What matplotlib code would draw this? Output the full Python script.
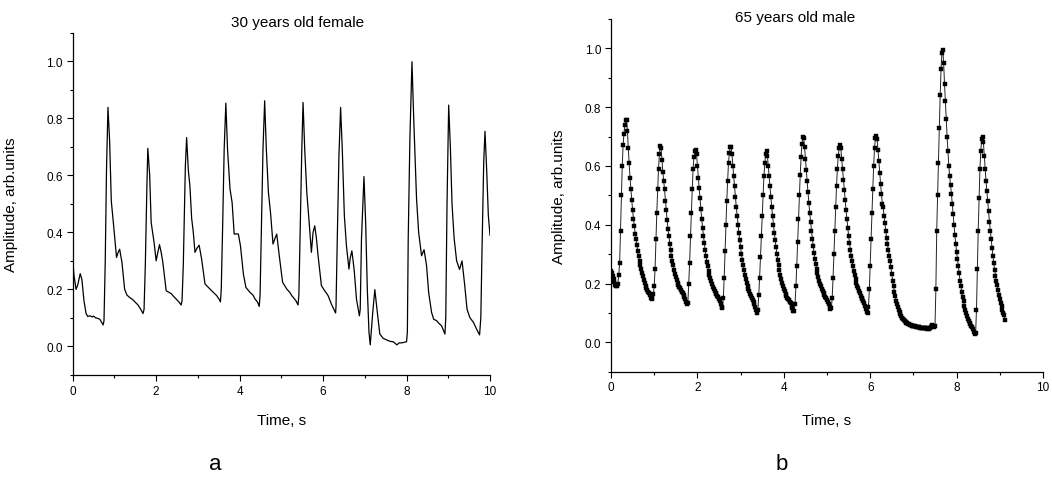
import numpy as np
import matplotlib
matplotlib.use("Agg")
import matplotlib.pyplot as plt
from matplotlib.ticker import MultipleLocator, FormatStrFormatter

plt.rcParams['font.family'] = ['Liberation Sans', 'DejaVu Sans']

# ---------------- data: panel a (30 years old female) ----------------
t_a = [0.00, 0.03, 0.08, 0.12, 0.18, 0.22, 0.27, 0.32, 0.36, 0.42, 0.47, 0.50, 0.55, 0.60, 0.65,
       0.69, 0.73, 0.75, 0.78, 0.81, 0.845, 0.885, 0.925, 0.98, 1.05, 1.09, 1.125, 1.18, 1.245,
       1.30, 1.36, 1.445, 1.52, 1.565, 1.63, 1.685, 1.71, 1.74, 1.78, 1.80, 1.845, 1.88, 1.95,
       2.00, 2.04, 2.08, 2.12, 2.16, 2.24, 2.30, 2.36, 2.42, 2.48, 2.55, 2.60, 2.62, 2.65, 2.70,
       2.73, 2.77, 2.81, 2.85, 2.89, 2.93, 2.98, 3.03, 3.09, 3.17, 3.25, 3.33, 3.45, 3.51, 3.54,
       3.56, 3.59, 3.63, 3.67, 3.71, 3.77, 3.82, 3.87, 3.92, 3.97, 4.02, 4.09, 4.15, 4.25, 4.32,
       4.37, 4.43, 4.47, 4.49, 4.52, 4.56, 4.60, 4.64, 4.69, 4.74, 4.80, 4.85, 4.89, 4.95, 5.03,
       5.13, 5.20, 5.25, 5.35, 5.40, 5.42, 5.45, 5.49, 5.52, 5.56, 5.61, 5.66, 5.72, 5.76, 5.80,
       5.84, 5.88, 5.96, 6.04, 6.12, 6.20, 6.30, 6.31, 6.34, 6.38, 6.42, 6.46, 6.51, 6.56, 6.62,
       6.65, 6.69, 6.72, 6.75, 6.80, 6.87, 6.89, 6.92, 6.98, 7.02, 7.06, 7.10, 7.13, 7.16, 7.19,
       7.24, 7.30, 7.36, 7.44, 7.50, 7.56, 7.62, 7.68, 7.73, 7.77, 7.82, 7.88, 7.94, 8.00, 8.02,
       8.04, 8.08, 8.13, 8.175, 8.24, 8.29, 8.36, 8.42, 8.48, 8.53, 8.60, 8.65, 8.72, 8.78, 8.84,
       8.92, 8.94, 8.97, 9.01, 9.05, 9.09, 9.14, 9.20, 9.27, 9.33, 9.39, 9.45, 9.52, 9.60, 9.68,
       9.75, 9.78, 9.81, 9.85, 9.88, 9.92, 9.96, 10.0]
v_a = [0.306, 0.25, 0.20, 0.215, 0.255, 0.235, 0.16, 0.115, 0.105, 0.107, 0.103, 0.106, 0.100, 0.098, 0.095,
       0.085, 0.075, 0.09, 0.30, 0.62, 0.839, 0.72, 0.51, 0.425, 0.312, 0.33, 0.341, 0.295, 0.20,
       0.18, 0.172, 0.163, 0.152, 0.145, 0.13, 0.115, 0.13, 0.283, 0.575, 0.695, 0.60, 0.435, 0.365,
       0.30, 0.33, 0.357, 0.33, 0.295, 0.195, 0.19, 0.185, 0.175, 0.166, 0.155, 0.145, 0.16, 0.283, 0.634,
       0.733, 0.62, 0.56, 0.45, 0.40, 0.33, 0.345, 0.355, 0.306, 0.219, 0.207, 0.195, 0.178, 0.165, 0.156,
       0.20, 0.40, 0.692, 0.854, 0.692, 0.552, 0.505, 0.394, 0.395, 0.394, 0.353, 0.254, 0.207, 0.189, 0.18,
       0.166, 0.155, 0.14, 0.18, 0.40, 0.692, 0.862, 0.692, 0.54, 0.47, 0.359, 0.38, 0.394, 0.318, 0.225,
       0.201, 0.19, 0.178, 0.16, 0.145, 0.18, 0.40, 0.692, 0.856, 0.692, 0.54, 0.447, 0.33, 0.40, 0.423,
       0.38, 0.318, 0.213, 0.195, 0.178, 0.148, 0.117, 0.14, 0.376, 0.669, 0.839, 0.692, 0.458, 0.353, 0.271,
       0.31, 0.335, 0.30, 0.26, 0.166, 0.107, 0.13, 0.376, 0.596, 0.435, 0.201, 0.049, 0.005, 0.06, 0.119,
       0.199, 0.119, 0.043, 0.028, 0.024, 0.02, 0.017, 0.016, 0.01, 0.005, 0.012, 0.012, 0.014, 0.016, 0.05,
       0.376, 0.727, 0.999, 0.786, 0.517, 0.40, 0.318, 0.339, 0.283, 0.189, 0.119, 0.095, 0.09, 0.08, 0.072,
       0.043, 0.10, 0.50, 0.847, 0.70, 0.50, 0.38, 0.30, 0.27, 0.30, 0.22, 0.13, 0.10, 0.085, 0.06,
       0.04, 0.10, 0.35, 0.65, 0.755, 0.62, 0.46, 0.39]

# ---------------- data: panel b (65 years old male), sampled every 0.02 s ----------------
dt_b = 0.02
v_b = [
    0.243, 0.235, 0.225, 0.215, 0.205, 0.196, 0.19, 0.19, 0.20,
    0.23, 0.27, 0.38, 0.50, 0.60, 0.67, 0.71, 0.74, 0.757, 0.755, 0.72, 0.66, 0.61, 0.56, 0.52,
    0.485, 0.45, 0.42, 0.395, 0.37, 0.35, 0.33, 0.31, 0.293, 0.278, 0.263, 0.25, 0.237, 0.225,
    0.213, 0.202, 0.192, 0.184, 0.177, 0.17, 0.166, 0.16, 0.152, 0.147, 0.15, 0.165,
    0.19, 0.25, 0.35, 0.44, 0.52, 0.59, 0.64, 0.668, 0.66, 0.62, 0.58, 0.55, 0.52, 0.48, 0.45,
    0.415, 0.385, 0.36, 0.335, 0.313, 0.293, 0.277, 0.262, 0.245, 0.233, 0.222, 0.212, 0.203,
    0.195, 0.189, 0.183, 0.178, 0.172, 0.167, 0.162, 0.155, 0.147, 0.138, 0.13, 0.135,
    0.20, 0.27, 0.36, 0.44, 0.52, 0.59, 0.63, 0.65, 0.654, 0.64, 0.60,
    0.56, 0.525, 0.49, 0.455, 0.42, 0.39, 0.362, 0.337, 0.313, 0.292, 0.274, 0.258, 0.243, 0.23,
    0.218, 0.207, 0.197, 0.188, 0.18, 0.174, 0.168, 0.163, 0.158, 0.153, 0.147, 0.14, 0.13, 0.12,
    0.118, 0.15,
    0.22, 0.31, 0.40, 0.48, 0.55, 0.61, 0.645, 0.665, 0.665, 0.64, 0.60, 0.565, 0.53, 0.495, 0.46,
    0.43, 0.40, 0.372, 0.347, 0.323, 0.30, 0.28, 0.262, 0.245, 0.23, 0.216, 0.203, 0.192, 0.182,
    0.173, 0.165, 0.158, 0.151, 0.145, 0.138, 0.13, 0.12, 0.11, 0.10, 0.11,
    0.16, 0.22, 0.29, 0.36, 0.43, 0.50, 0.565, 0.61, 0.64, 0.65, 0.635, 0.60, 0.565, 0.53, 0.495,
    0.46, 0.43, 0.40, 0.372, 0.347, 0.323, 0.30, 0.28, 0.262, 0.245, 0.23, 0.216, 0.203, 0.192,
    0.182, 0.173, 0.165, 0.158, 0.152, 0.147, 0.143, 0.138, 0.132, 0.124, 0.115, 0.108, 0.107, 0.13,
    0.19, 0.26, 0.34, 0.42, 0.50, 0.57, 0.63, 0.675, 0.698, 0.695, 0.665, 0.625, 0.585, 0.547, 0.51,
    0.475, 0.44, 0.41, 0.38, 0.353, 0.328, 0.305, 0.285, 0.267, 0.25, 0.235, 0.222, 0.21, 0.199,
    0.19, 0.181, 0.173, 0.166, 0.16, 0.154, 0.149, 0.144, 0.138, 0.13, 0.12, 0.113, 0.115, 0.15,
    0.22, 0.30, 0.38, 0.46, 0.53, 0.59, 0.635, 0.66, 0.672, 0.66, 0.625, 0.588, 0.552, 0.517, 0.483,
    0.45, 0.42, 0.39, 0.363, 0.338, 0.315, 0.294, 0.275, 0.258, 0.242, 0.228, 0.215, 0.203, 0.192,
    0.183, 0.174, 0.166, 0.159, 0.152, 0.146, 0.14, 0.133, 0.124, 0.113, 0.103, 0.10, 0.12,
    0.18, 0.26, 0.35, 0.44, 0.52, 0.60, 0.66, 0.695, 0.703, 0.69, 0.655, 0.615, 0.577, 0.54, 0.505,
    0.472, 0.46, 0.43, 0.405, 0.38, 0.356, 0.334, 0.313, 0.295, 0.278, 0.255, 0.232, 0.21, 0.19,
    0.172, 0.156, 0.142, 0.13, 0.12, 0.111, 0.103, 0.096, 0.09, 0.084, 0.079, 0.075, 0.071, 0.068,
    0.066, 0.064, 0.062, 0.061, 0.06, 0.058, 0.057, 0.056, 0.055, 0.054, 0.054, 0.053, 0.052, 0.052,
    0.051, 0.051, 0.05, 0.05, 0.049, 0.05, 0.048, 0.049, 0.047, 0.048, 0.046, 0.047, 0.046, 0.047,
    0.052, 0.056, 0.058, 0.055, 0.053, 0.056,
    0.18, 0.38, 0.50, 0.61, 0.73, 0.84, 0.93, 0.985, 0.995, 0.95, 0.88, 0.82, 0.76, 0.70, 0.65,
    0.60, 0.565, 0.535, 0.505, 0.47, 0.435, 0.40, 0.365, 0.335, 0.308, 0.283, 0.26, 0.235, 0.21,
    0.19, 0.17, 0.155, 0.14, 0.125, 0.11, 0.098, 0.088, 0.08, 0.073, 0.067, 0.062, 0.057, 0.052,
    0.045, 0.036, 0.028, 0.03,
    0.11, 0.25, 0.38, 0.49, 0.59, 0.65, 0.69, 0.70, 0.68, 0.635, 0.59, 0.55, 0.515, 0.48, 0.445,
    0.41, 0.38, 0.35, 0.322, 0.295, 0.27, 0.247, 0.227, 0.21, 0.194, 0.178, 0.162, 0.148, 0.135,
    0.122, 0.11, 0.10, 0.092, 0.075,
]
t_b = np.arange(len(v_b)) * dt_b

titles = ['30 years old female', '65 years old male']
panel_letters = ['a', 'b']
xlabel = 'Time, s'
ylabel = 'Amplitude, arb.units'

W, H = 1052, 485
fig = plt.figure(figsize=(W / 100, H / 100), dpi=100)

def px_axes(x0, x1, ytop, ybot):
    return fig.add_axes([x0 / W, 1 - ybot / H, (x1 - x0) / W, (ybot - ytop) / H])

ax1 = px_axes(72.7, 490, 34, 375.8)
ax2 = px_axes(611, 1043, 19.9, 372.7)

ax1.plot(t_a, v_a, color='black', lw=0.9)
ax2.plot(t_b, v_b, color='#222222', lw=0.7, marker='s', markersize=2.8,
         markerfacecolor='black', markeredgecolor='black', markeredgewidth=0.3)

for ax, ylp in ((ax1, -0.131), (ax2, -0.104)):
    ax.set_xlim(0, 10)
    ax.set_ylim(-0.1, 1.1)
    ax.xaxis.set_major_locator(MultipleLocator(2))
    ax.xaxis.set_minor_locator(MultipleLocator(1))
    ax.yaxis.set_major_locator(MultipleLocator(0.2))
    ax.yaxis.set_minor_locator(MultipleLocator(0.1))
    ax.yaxis.set_major_formatter(FormatStrFormatter('%.1f'))
    for s in ('top', 'right'):
        ax.spines[s].set_visible(False)
    for s in ('left', 'bottom'):
        ax.spines[s].set_linewidth(0.9)
    ax.tick_params(which='major', direction='out', length=4, width=0.8, labelsize=8.5, pad=3)
    ax.tick_params(which='minor', direction='out', length=2.5, width=0.8)
    ax.set_xlabel(xlabel, fontsize=11)
    ax.set_ylabel(ylabel, fontsize=11)
    ax.yaxis.set_label_coords(ylp, 0.5)

ax1.xaxis.set_label_coords(0.5, -0.112)
ax2.xaxis.set_label_coords(0.5, -0.117)

fig.text(298 / W, 1 - 23 / H, titles[0], ha='center', va='center', fontsize=11)
fig.text(795 / W, 1 - 17.6 / H, titles[1], ha='center', va='center', fontsize=11)
fig.text(215 / W, 1 - 465 / H, panel_letters[0], ha='center', va='center', fontsize=16)
fig.text(782 / W, 1 - 465 / H, panel_letters[1], ha='center', va='center', fontsize=16)

fig.savefig('out.png', dpi=100)
